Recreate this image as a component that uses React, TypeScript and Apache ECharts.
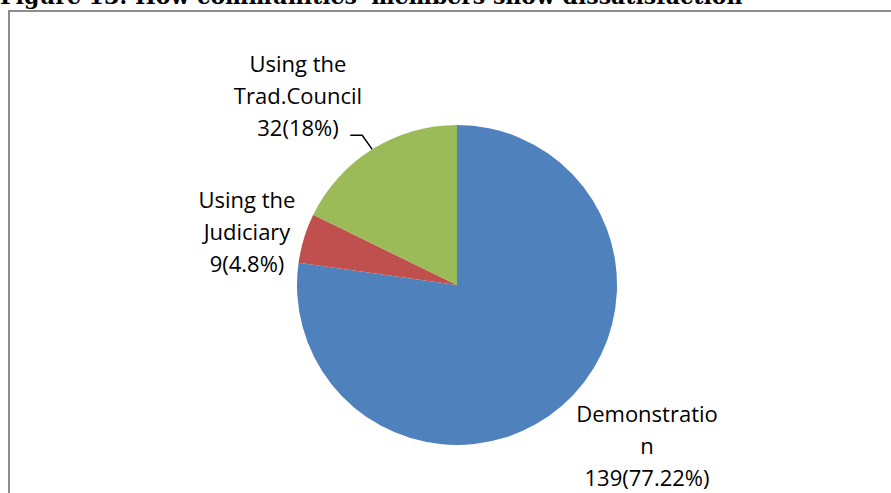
import React, { useEffect, useRef } from "react";
import * as echarts from "echarts";

const categories = ["Demonstration", "Using the Judiciary", "Using the Trad.Council"];
const labelNames = ["Demonstratio\nn", "Using the\nJudiciary", "Using the\nTrad.Council"];
const values = [139, 9, 32];
const percentLabels = ["77.22%", "4.8%", "18%"];
const colors = ["#4F81BD", "#C0504D", "#9BBB59"];
const titleText = "Figure 13: How communities' members show dissatisfaction";

// label block centres (layout only)
const labelCenters = [
  [647, 445],
  [247, 231],
  [298, 95],
];
const showLeader = [false, false, true];

export default function App() {
  const ref = useRef<HTMLDivElement>(null);
  useEffect(() => {
    if (!ref.current) return;
    const chart = echarts.init(ref.current, null, { renderer: "svg" });
    chart.setOption({
      animation: false,
      backgroundColor: "#fff",
      graphic: [
        {
          type: "text",
          x: 0,
          y: -15,
          style: {
            text: titleText,
            font: 'bold 22px "DejaVu Serif"',
            fill: "#000",
            verticalAlign: "top",
          },
          silent: true,
        },
        {
          type: "rect",
          shape: { x: 9, y: 11, width: 1000, height: 600 },
          style: { fill: "none", stroke: "#8c8c8c", lineWidth: 2 },
          silent: true,
        },
      ],
      series: [
        {
          type: "pie",
          center: [457, 285],
          radius: 160,
          startAngle: 90,
          clockwise: true,
          avoidLabelOverlap: false,
          data: categories.map((c, i) => ({
            name: c,
            value: values[i],
            itemStyle: { color: colors[i] },
            labelLine: { show: showLeader[i] },
          })),
          label: {
            show: true,
            position: "outside",
            formatter: (p: any) =>
              `${labelNames[p.dataIndex]}\n${values[p.dataIndex]}(${percentLabels[p.dataIndex]})`,
            fontFamily: '"Open Sans"',
            fontSize: 22,
            lineHeight: 32,
            color: "#000",
            align: "center",
          },
          labelLine: {
            show: true,
            lineStyle: { color: "#000", width: 1.5 },
          },
          labelLayout: (params: any) => {
            const i = params.dataIndex;
            const out: any = {
              x: labelCenters[i][0],
              y: labelCenters[i][1],
              align: "center",
              verticalAlign: "middle",
            };
            if (showLeader[i] && params.labelLinePoints) {
              const p0 = params.labelLinePoints[0];
              out.labelLinePoints = [
                [p0[0], p0[1]],
                [p0[0] - 10, p0[1] - 14],
                [p0[0] - 22, p0[1] - 14],
              ];
            }
            return out;
          },
          itemStyle: { borderWidth: 0 },
          emphasis: { disabled: true },
        },
      ],
    });
    return () => chart.dispose();
  }, []);
  return (
    <div
      ref={ref}
      style={{ position: "fixed", left: 0, top: 0, width: 891, height: 493 }}
    />
  );
}
